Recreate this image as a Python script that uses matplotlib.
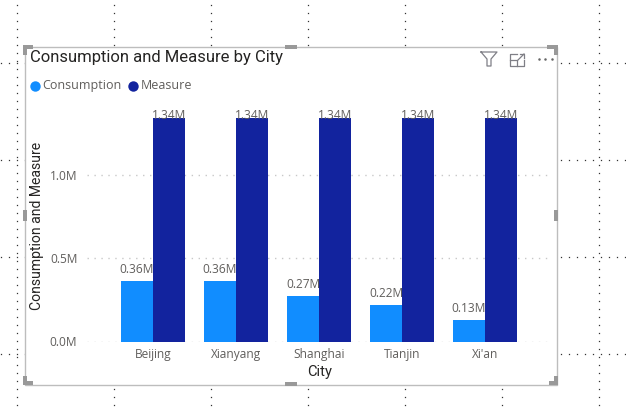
import numpy as np
import matplotlib
matplotlib.use("Agg")
import matplotlib.pyplot as plt
from matplotlib.patches import Rectangle

# data
cities = ["Beijing", "Xianyang", "Shanghai", "Tianjin", "Xi'an"]
consumption = [0.36, 0.36, 0.27, 0.22, 0.13]
measure = [1.34, 1.34, 1.34, 1.34, 1.34]
yticks = [0.0, 0.5, 1.0]

W, H = 626, 412
LIGHT = "#118DFF"
DARK = "#12239E"
GREY = "#605E5C"

plt.rcParams["font.family"] = ["Open Sans", "DejaVu Sans"]

fig = plt.figure(figsize=(W / 100, H / 100), dpi=100, facecolor="white")

# full-figure layer in pixel coords, y going down
bg = fig.add_axes([0, 0, 1, 1], zorder=0)
bg.set_xlim(0, W)
bg.set_ylim(H, 0)
bg.axis("off")

# canvas grid dots
for gx in range(16, W, 97):
    ys = np.arange(4.5, H, 8)
    bg.plot(np.full(len(ys), gx + 0.5), ys, ls="none", marker="s", ms=0.9, mew=0, color="#333333")
for gy in range(62, H, 97):
    xs = np.arange(0.5, W, 8)
    bg.plot(xs, np.full(len(xs), gy + 0.5), ls="none", marker="s", ms=0.9, mew=0, color="#333333")

# visual box
bg.add_patch(Rectangle((24.5, 46.5), 532, 338, fc="white", ec="#BDBDBD", lw=1, zorder=3))

# resize handles
handle = "#999999"
for x, y, w, h in [
    (23, 45, 10, 4), (23, 45, 4, 10),
    (547, 45, 11, 4), (554, 45, 4, 10),
    (23, 381, 10, 4), (23, 376, 4, 9),
    (549, 381, 9, 4), (554, 376, 4, 9),
    (285, 45, 12, 4), (285, 382, 12, 4),
    (23, 210, 4, 11), (554, 210, 4, 11),
]:
    bg.add_patch(Rectangle((x, y), w, h, fc=handle, ec="none", zorder=4))

# header icons
icon = "#7F7F86"
bg.plot([481, 497, 491, 491, 487, 487, 481], [52, 52, 59, 66, 66, 59, 52], color=icon, lw=0.9, zorder=4)
bg.plot([517, 510, 510, 524, 524], [54, 54, 66, 66, 60], color=icon, lw=0.9, zorder=4)
bg.plot([510, 517, 517], [60, 60, 66], color=icon, lw=0.9, zorder=4)
bg.plot([518, 524], [60, 54], color=icon, lw=0.9, zorder=4)
bg.plot([520, 524, 524], [54, 54, 58], color=icon, lw=0.9, zorder=4)
bg.plot([538.5, 545, 551.5], [59, 59, 59], ls="none", marker="o", ms=1.8, mew=0, color="#666666", zorder=4)

# title and legend
bg.text(30, 57, "Consumption and Measure by City", fontsize=12, family="Roboto",
        color="#252423", va="center", ha="left", zorder=5)
bg.plot([35], [85.5], ls="none", marker="o", ms=7.5, mew=0, color=LIGHT, zorder=5)
bg.text(42.5, 85.5, "Consumption", fontsize=9, color=GREY, va="center", ha="left", zorder=5)
bg.plot([133], [85.5], ls="none", marker="o", ms=7.5, mew=0, color=DARK, zorder=5)
bg.text(141, 85.5, "Measure", fontsize=9, color=GREY, va="center", ha="left", zorder=5)

# plot area
left, right, top, bottom = 87, 552, 100, 341.5
ax = fig.add_axes([left / W, 1 - bottom / H, (right - left) / W, (bottom - top) / H], zorder=2)
ax.patch.set_alpha(0)
ax.set_xlim(-0.795, 4.807)
ax.set_ylim(0, (bottom - top) / 167)

x = np.arange(len(cities))
bw = 32 / 83
b1 = ax.bar(x - bw / 2, consumption, bw, color=LIGHT, zorder=3)
b2 = ax.bar(x + bw / 2, measure, bw, color=DARK, zorder=3)

# the tall bars have their labels pushed down onto the bar top
for bars, vals, off in [(b1, consumption, 5), (b2, measure, -4)]:
    for r, v in zip(bars, vals):
        ax.annotate(f"{v:.2f}M", (r.get_x() + r.get_width() / 2, v), xytext=(0, off),
                    textcoords="offset pixels", ha="center", va="bottom",
                    fontsize=8.6, color=GREY, zorder=4, clip_on=False)

ax.set_xticks(x, cities)
ax.set_yticks(yticks, [f"{v:.1f}M" for v in yticks])
ax.tick_params(length=0, labelsize=8.6, labelcolor=GREY)
ax.tick_params(axis="x", pad=5)
ax.tick_params(axis="y", pad=7)
ax.grid(axis="y", color="#C8C8C8", lw=1, ls=(0, (1, 4)), zorder=0)
ax.set_axisbelow(True)
for s in ax.spines.values():
    s.set_visible(False)

bg.text(37.5, 226, "Consumption and Measure", rotation=90, fontsize=10.1, family="Roboto",
        color="#252423", va="center", ha="center", zorder=5)
bg.text(320, 372, "City", fontsize=10.6, family="Roboto", color="#252423",
        va="center", ha="center", zorder=5)

fig.savefig("out.png", dpi=100)
